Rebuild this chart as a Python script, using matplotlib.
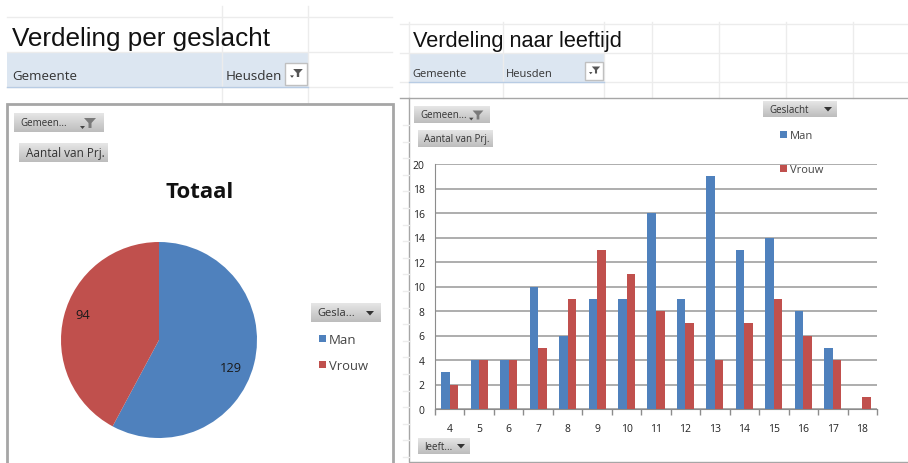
import numpy as np
import matplotlib
matplotlib.use("Agg")
import matplotlib.pyplot as plt
from matplotlib.patches import Rectangle, Polygon

W, H = 908, 464
BLUE = "#4f81bd"
RED = "#c0504d"
GRID = "#ececec"
plt.rcParams["font.family"] = ["Open Sans", "DejaVu Sans"]

# data
ages = ["4", "5", "6", "7", "8", "9", "10", "11", "12", "13", "14", "15", "16", "17", "18"]
man_by_age = [3, 4, 4, 10, 6, 9, 9, 16, 9, 19, 13, 14, 8, 5, 0]
vrouw_by_age = [2, 4, 4, 5, 9, 13, 11, 8, 7, 4, 7, 9, 6, 4, 1]
pie_values = [129, 94]
series_names = ["Man", "Vrouw"]
y_ticks = list(range(0, 21, 2))


def px_axes(left, top, right, bottom, **kw):
    # axes placed with pixel coordinates of the picture
    return fig.add_axes([left / W, 1 - bottom / H, (right - left) / W, (bottom - top) / H], **kw)


def label(x, y, s, size=8, **kw):
    # +1.5: Open Sans sits a bit high with va=center
    kw.setdefault("color", "#333333")
    sheet.text(x, y + 1.5, s, fontsize=size, va="center", zorder=4, **kw)


def button(x0, y0, x1, y1, s, size=7.5, text_x=None):
    grad = np.linspace(0.9, 0.74, 32).reshape(-1, 1)
    sheet.imshow(grad, extent=(x0, x1, y1, y0), cmap="gray", vmin=0, vmax=1, aspect="auto", zorder=3)
    label(text_x or x0 + 6, (y0 + y1) / 2 - 1, s, size)


def funnel(cx, cy, s=1.0, color="#7a7a7a"):
    sheet.add_patch(Polygon([(cx - 6 * s, cy - 5 * s), (cx + 6 * s, cy - 5 * s), (cx + 1.5 * s, cy),
                             (cx + 1.5 * s, cy + 5 * s), (cx - 1.5 * s, cy + 5 * s), (cx - 1.5 * s, cy)],
                            fc=color, ec="none", zorder=5))
    sheet.add_patch(Polygon([(cx - 10 * s, cy + 3 * s), (cx - 5 * s, cy + 3 * s), (cx - 7.5 * s, cy + 6 * s)],
                            fc="#444444", ec="none", zorder=5))


def arrow(cx, cy):
    sheet.add_patch(Polygon([(cx - 4, cy - 2), (cx + 4, cy - 2), (cx, cy + 2.5)], fc="#333333", ec="none", zorder=5))


def legend_item(x, y, color, s, size=8):
    sheet.add_patch(Rectangle((x - 3.5, y - 3.5), 7, 7, fc=color, ec="none", zorder=4))
    label(x + 7, y, s, size, color="#444444")


fig = plt.figure(figsize=(W / 100, H / 100), dpi=100, facecolor="white")

# sheet layer: spreadsheet cells, frames and buttons
sheet = fig.add_axes([0, 0, 1, 1], zorder=1)
sheet.set_axis_off()

# left sheet cells
for y in [18, 53, 88]:
    sheet.plot([7, 392], [y, y], color=GRID, lw=1)
for x in [222, 308]:
    sheet.plot([x, x], [7, 104], color=GRID, lw=1)
sheet.add_patch(Rectangle((7, 53), 301, 35, fc="#dce6f1", ec="none"))
sheet.plot([7, 308], [88, 88], color="#b8cce4", lw=1)
label(12, 37.5, "Verdeling per geslacht", 18.8, family="Liberation Sans", color="#111111")
label(12, 75, "Gemeente", 9.5)
label(226, 75, "Heusden", 9.7)
sheet.add_patch(Rectangle((285, 64), 22, 22, fc="white", ec="#c0c0c0", lw=1, zorder=3))
funnel(298, 74, 0.8, "#555555")

# left chart frame
sheet.add_patch(Rectangle((7, 105), 386, 365, fc="white", ec="#a6a6a6", lw=2, zorder=2))
button(14, 114, 104, 133, "Gemeen...", 7)
funnel(90, 124)
button(19, 144, 108, 163, "Aantal van Prj.", 8.5, text_x=26)
label(200, 191.5, "Totaal", 16, fontweight="bold", color="#111111", ha="center")
button(311, 304, 381, 323, "Gesla...", 8)
arrow(370, 314)
legend_item(322, 339, BLUE, series_names[0], 9.5)
legend_item(322, 365, RED, series_names[1], 9.4)

# right sheet cells
for y in [25, 54, 83]:
    sheet.plot([400, 908], [y, y], color=GRID, lw=1)
for x in [409, 503, 604, 652, 719, 786, 853]:
    sheet.plot([x, x], [23, 99], color=GRID, lw=1)
sheet.add_patch(Rectangle((409, 54), 195, 29, fc="#dce6f1", ec="none"))
sheet.plot([409, 604], [83, 83], color="#b8cce4", lw=1)
label(413, 40.5, "Verdeling naar leeftijd", 15.7, family="Liberation Sans", color="#111111")
label(412, 73, "Gemeente", 8)
label(506, 73, "Heusden", 8)
sheet.add_patch(Rectangle((585, 63), 18, 18, fc="white", ec="#c0c0c0", lw=1, zorder=3))
funnel(596, 71, 0.7, "#555555")

# right chart frame
sheet.plot([400, 908], [99, 99], color="#a6a6a6", lw=1)
sheet.plot([409, 409, 908], [99, 463, 463], color="#a6a6a6", lw=1)
for y in np.arange(126, 460, 16.6):
    sheet.plot([403, 409], [y, y], color=GRID, lw=1)
button(414, 107, 490, 124, "Gemeen...", 7)
funnel(478, 116, 0.9)
button(418, 131, 493, 148, "Aantal van Prj.", 7)
button(763, 102, 837, 118, "Geslacht", 7)
arrow(828, 110)
button(418, 439, 470, 455, "leeft...", 7)
arrow(461, 447)

sheet.set_xlim(0, W)
sheet.set_ylim(H, 0)

# pie
ax_pie = px_axes(61, 243, 257, 439, zorder=2)
wedges, _, pie_labels = ax_pie.pie(pie_values, colors=[BLUE, RED], startangle=90, counterclock=False, radius=1.0,
                                   autopct=lambda p: "{:d}".format(round(p * sum(pie_values) / 100)),
                                   textprops={"fontsize": 9.3, "color": "#1a1a1a"})
# excel puts them a little off the wedge middle
pie_labels[0].set_position((0.735, -0.276))
pie_labels[1].set_position((-0.776, 0.265))
ax_pie.set_xlim(-1, 1)
ax_pie.set_ylim(-1, 1)

# bars
ax_bar = px_axes(435, 165, 877, 410, zorder=2)
x = np.arange(len(ages))
bar_w = 0.29
ax_bar.bar(x - bar_w / 2, man_by_age, bar_w, color=BLUE, zorder=3)
ax_bar.bar(x + bar_w / 2, vrouw_by_age, bar_w, color=RED, zorder=3)
ax_bar.set_xlim(-0.5, len(ages) - 0.5)
ax_bar.set_ylim(0, 20)
ax_bar.set_yticks(y_ticks)
ax_bar.tick_params(axis="y", length=0, labelsize=7.5, pad=7.5, labelcolor="#222222")
ax_bar.set_xticks(x)
ax_bar.set_xticklabels(ages, fontsize=7.5, color="#222222")
ax_bar.tick_params(axis="x", which="major", length=0, pad=10)
ax_bar.set_xticks(np.arange(len(ages) + 1) - 0.5, minor=True)
ax_bar.tick_params(axis="x", which="minor", length=4, color="#8c8c8c", width=1)
ax_bar.grid(axis="y", color="#a0a0a0", lw=1.2, zorder=1)
ax_bar.set_axisbelow(True)
for s in ["top", "right"]:
    ax_bar.spines[s].set_visible(False)
for s in ["left", "bottom"]:
    ax_bar.spines[s].set_color("#8c8c8c")

# legend of the bar chart sits over the plot
top = fig.add_axes([0, 0, 1, 1], zorder=3)
top.set_axis_off()
top.patch.set_alpha(0)
top.set_xlim(0, W)
top.set_ylim(H, 0)
sheet = top
legend_item(783, 135, BLUE, series_names[0])
legend_item(783, 169, RED, series_names[1])

fig.savefig("out.png", dpi=100)
